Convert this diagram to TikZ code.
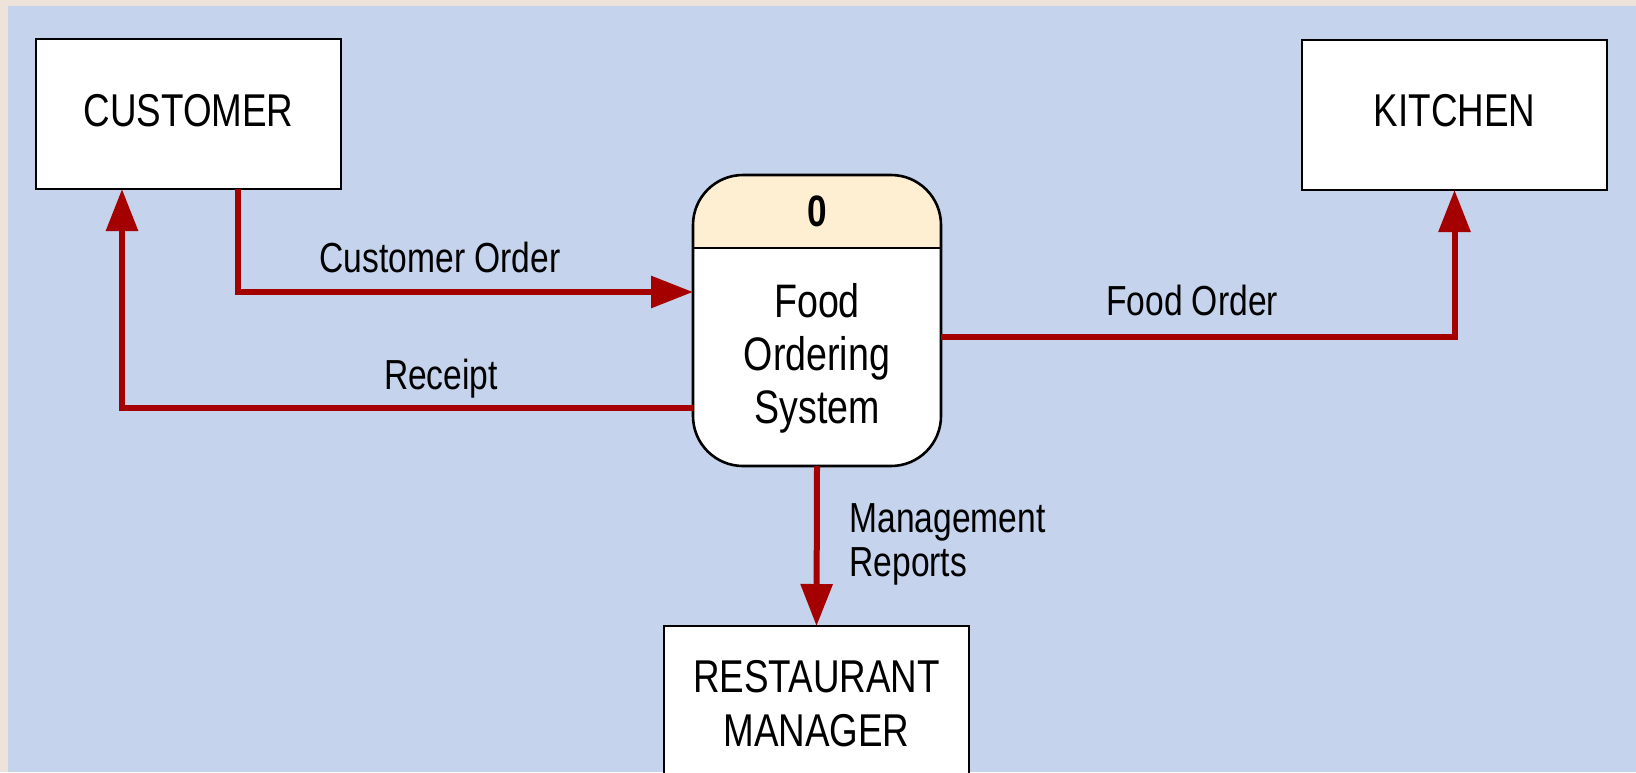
\documentclass[tikz,border=0pt]{standalone}
\usepackage{fontspec}
\setmainfont[FakeStretch=0.8]{Liberation Sans}
\usetikzlibrary{arrows.meta}
\definecolor{bgblue}{RGB}{197,211,236}
\definecolor{bgbeige}{RGB}{237,227,218}
\definecolor{flowred}{RGB}{165,0,0}
\definecolor{headpeach}{RGB}{255,239,210}
\begin{document}
\begin{tikzpicture}[x=0.5pt,y=-0.5pt,
  entity/.style={draw=black,line width=1.3pt,fill=white,minimum width=152.5pt,minimum height=75pt,inner sep=0pt,outer sep=0pt},
  entitytext/.style={font=\fontsize{23}{27}\selectfont,anchor=base,inner sep=0pt},
  proctext/.style={font=\fontsize{23.5}{27}\selectfont,anchor=base,inner sep=0pt},
  flow/.style={draw=flowred,line width=3pt,-{Triangle[length=21pt,width=15.5pt]}},
  flowlabel/.style={font=\fontsize{21}{25}\selectfont,anchor=base,inner sep=0pt}]
\useasboundingbox (0,0) rectangle (1636,772);
\clip (0,0) rectangle (1636,772);
\fill[bgbeige] (0,0) rectangle (1636,772);
\fill[bgblue] (8,6) rectangle (1636,772);

% external entities
\node[entity] (cust) at (188.5,114) {};
\node[entity] (kit) at (1454.5,115) {};
\node[entity,minimum height=84pt] (mgr) at (816.5,710) {};
\node[entitytext] (custt) at (188.5,126) {CUSTOMER};
\node[entitytext] (kitt) at (1454.5,126) {KITCHEN};
\node[entitytext] (mgrt1) at (816.5,692) {RESTAURANT};
\node[entitytext] (mgrt2) at (816.5,746) {MANAGER};

% process
\node[minimum width=124pt,minimum height=145.5pt,inner sep=0pt,outer sep=0pt] (proc) at (817,320.5) {};
\begin{scope}
  \clip[rounded corners=25pt] (proc.north west) rectangle (proc.south east);
  \fill[white] (proc.north west) rectangle (proc.south east);
  \fill[headpeach] (proc.north west) rectangle (941,248);
\end{scope}
\draw[line width=1.3pt,rounded corners=25pt] (proc.north west) rectangle (proc.south east);
\draw[line width=1.3pt] (proc.west |- 0,248) -- (proc.east |- 0,248);
\node[proctext,font=\fontsize{22}{26}\selectfont\bfseries] (pnum) at (817,226) {0};
\node[proctext] (pt1) at (817,317) {Food};
\node[proctext] (pt2) at (817,370) {Ordering};
\node[proctext] (pt3) at (817,423) {System};

% flows
\draw[flow] ([xshift=24.75pt]cust.south) |- ([yshift=14.25pt]proc.west);
\draw[flow] ([yshift=-43.75pt]proc.west) -| ([xshift=-33.25pt]cust.south);
\draw[flow] ([yshift=-8.25pt]proc.east) -| (kit.south);
\draw[flow] (proc.south) -- (mgr.north);

% flow labels
\node[flowlabel] (lco) at (440,272.7) {Customer Order};
\node[flowlabel] (lr) at (441,389) {Receipt};
\node[flowlabel] (lfo) at (1192,315) {Food Order};
\node[flowlabel,anchor=base west] (lm1) at (849,532) {Management};
\node[flowlabel,anchor=base west] (lm2) at (849,576) {Reports};
\end{tikzpicture}
\end{document}
